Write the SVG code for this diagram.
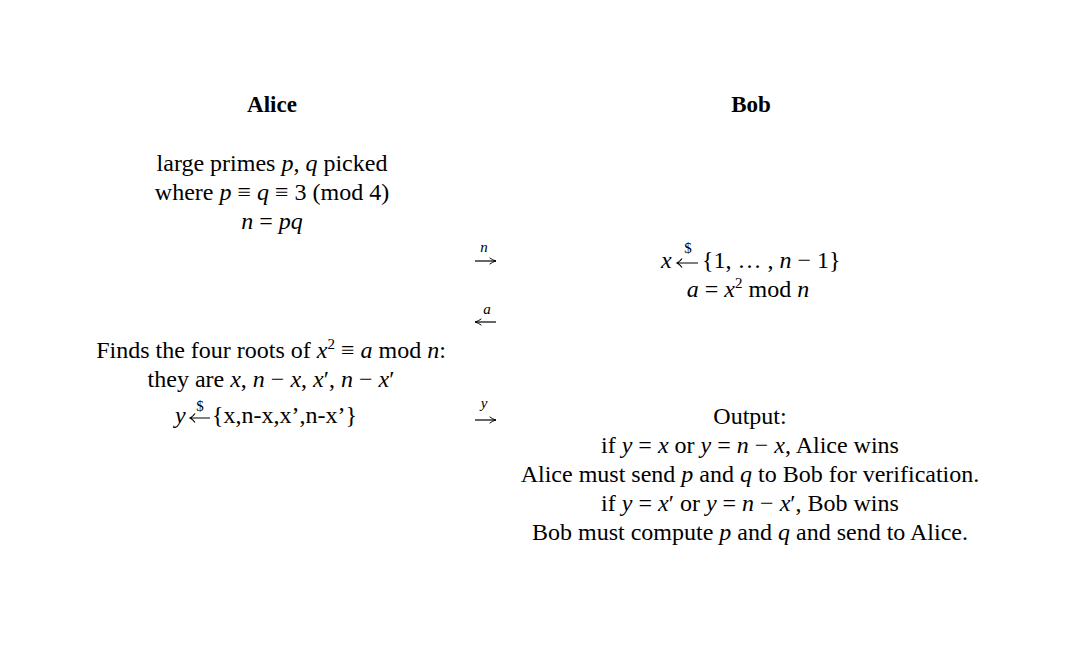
<svg xmlns="http://www.w3.org/2000/svg" width="1092" height="666" viewBox="0 0 1092 666">
<style>
text{font-family:"Liberation Serif","Times New Roman",serif;font-size:24px;fill:#000}
.h{font-weight:bold;font-size:23px}
.i{font-style:italic}
.s{font-size:15px}
.lbl{font-style:italic;font-size:15px}
.c{stroke:#000;stroke-width:1.2;fill:none}
</style>
<defs>
<marker id="ah" viewBox="0 0 10 10" refX="9" refY="5" markerWidth="8" markerHeight="8" orient="auto-start-reverse" markerUnits="userSpaceOnUse">
<path d="M1,1 Q5,4 9,5 Q5,6 1,9" fill="none" stroke="#000" stroke-width="1.2"/>
</marker>
</defs>
<rect width="1092" height="666" fill="#fff"/>
<g id="alice">
<text class="h" x="272" y="112" text-anchor="middle">Alice</text>
<text x="272" y="171" text-anchor="middle">large primes <tspan class="i">p</tspan>, <tspan class="i">q</tspan> picked</text>
<text x="272" y="200" text-anchor="middle">where <tspan class="i">p</tspan> ≡ <tspan class="i">q</tspan> ≡ 3 (mod 4)</text>
<text x="272" y="229" text-anchor="middle"><tspan class="i">n</tspan> = <tspan class="i">pq</tspan></text>
<text x="271" y="358" text-anchor="middle">Finds the four roots of <tspan class="i">x</tspan><tspan class="s" dy="-9">2</tspan><tspan dy="9"> ≡ </tspan><tspan class="i">a</tspan> mod <tspan class="i">n</tspan>:</text>
<text x="271" y="387" text-anchor="middle">they are <tspan class="i">x</tspan>, <tspan class="i">n</tspan> − <tspan class="i">x</tspan>, <tspan class="i">x</tspan>′, <tspan class="i">n</tspan> − <tspan class="i">x</tspan>′</text>
<text class="i" x="175" y="423">y</text>
<path class="c" d="M210,418 H190 M195,413.5 Q193,416.5 190,418 Q193,419.5 195,422.5"/>
<text class="s" x="200" y="411" text-anchor="middle">$</text>
<text x="212" y="423">{x,n-x,x’,n-x’}</text>
</g>
<g id="bob">
<text class="h" x="751" y="112" text-anchor="middle">Bob</text>
<text class="i" x="661" y="268">x</text>
<path class="c" d="M698,263 H677 M682,258.5 Q680,261.5 677,263 Q680,264.5 682,267.5"/>
<text class="s" x="688" y="253" text-anchor="middle">$</text>
<text x="702" y="268">{1, … , <tspan class="i">n</tspan> − 1}</text>
<text x="748" y="297" text-anchor="middle"><tspan class="i">a</tspan> = <tspan class="i">x</tspan><tspan class="s" dy="-9">2</tspan><tspan dy="9"> mod </tspan><tspan class="i">n</tspan></text>
<text x="750" y="424" text-anchor="middle">Output:</text>
<text x="750" y="453" text-anchor="middle">if <tspan class="i">y</tspan> = <tspan class="i">x</tspan> or <tspan class="i">y</tspan> = <tspan class="i">n</tspan> − <tspan class="i">x</tspan>, Alice wins</text>
<text x="750" y="482" text-anchor="middle">Alice must send <tspan class="i">p</tspan> and <tspan class="i">q</tspan> to Bob for verification.</text>
<text x="750" y="511" text-anchor="middle">if <tspan class="i">y</tspan> = <tspan class="i">x</tspan>′ or <tspan class="i">y</tspan> = <tspan class="i">n</tspan> − <tspan class="i">x</tspan>′, Bob wins</text>
<text x="750" y="540" text-anchor="middle">Bob must compute <tspan class="i">p</tspan> and <tspan class="i">q</tspan> and send to Alice.</text>
</g>
<g id="connectors">
<line class="c" x1="475" y1="261" x2="496" y2="261" marker-end="url(#ah)"/>
<text class="lbl" x="484" y="252" text-anchor="middle">n</text>
<line class="c" x1="475" y1="322" x2="496" y2="322" marker-start="url(#ah)"/>
<text class="lbl" x="487" y="314" text-anchor="middle">a</text>
<line class="c" x1="475" y1="420" x2="496" y2="420" marker-end="url(#ah)"/>
<text class="lbl" x="484" y="408" text-anchor="middle">y</text>
</g>
</svg>
